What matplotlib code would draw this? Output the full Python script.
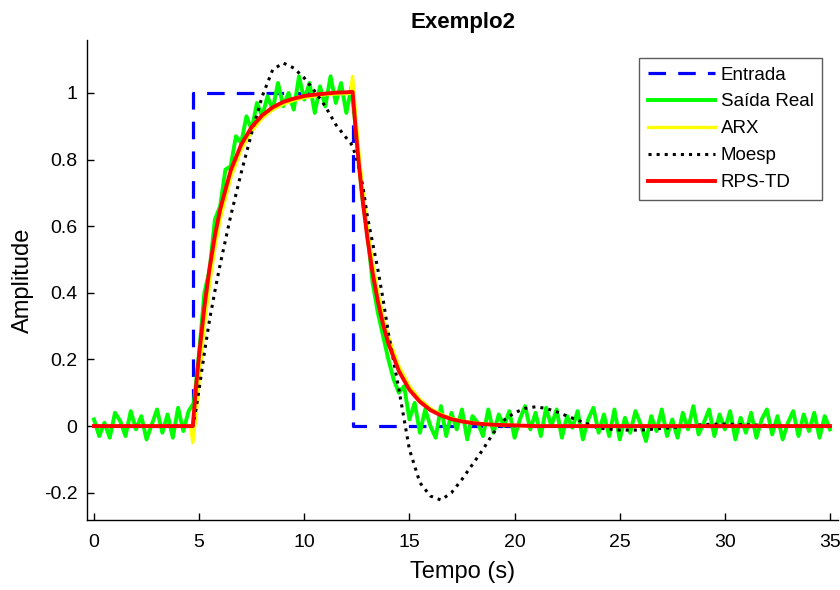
"""
Exemplo2: step response of the real system and of the identified models
"""
import matplotlib
matplotlib.use("Agg")
import matplotlib.pyplot as plt
from matplotlib.ticker import FormatStrFormatter

plt.rcParams["font.family"] = ["Liberation Sans", "DejaVu Sans"]

# Input step (corners only)
t_in = [0.0, 4.7, 4.7, 12.3, 12.3, 35.0]
u_in = [0.0, 0.0, 1.0, 1.0, 0.0, 0.0]

# Measured output, sampled every 0.25 s from 0 to 35 s
t_real = [i * 0.25 for i in range(141)]
y_real = [
    0.02, -0.03, 0.01, -0.035, 0.04, 0.015, -0.03, 0.045, -0.01, 0.03,
    -0.04, 0.005, 0.05, -0.02, 0.035, -0.035, 0.055, -0.015, 0.045, 0.07,
    0.22, 0.40, 0.47, 0.62, 0.66, 0.77, 0.78, 0.87, 0.85, 0.93,
    0.89, 0.97, 0.93, 0.99, 0.95, 1.03, 0.96, 1.00, 0.95, 1.05,
    0.98, 1.03, 0.94, 1.02, 0.96, 1.05, 0.97, 1.03, 0.94, 1.02,
    0.86, 0.69, 0.58, 0.43, 0.34, 0.27, 0.20, 0.14, 0.10, 0.12,
    0.02, 0.07, -0.02, 0.05, 0.0, -0.035, 0.06, -0.03, 0.04, -0.01,
    0.05, -0.04, 0.03, 0.01, -0.03, 0.05, -0.02, 0.035, 0.0, 0.045,
    -0.035, 0.02, 0.06, -0.01, 0.04, -0.03, 0.055, 0.0, 0.05, -0.035,
    0.03, -0.005, 0.045, -0.04, 0.02, 0.055, -0.02, 0.035, -0.03, 0.05,
    -0.04, 0.025, -0.02, 0.045, 0.005, -0.045, 0.03, -0.015, 0.05, -0.03,
    0.02, -0.035, 0.04, -0.01, 0.06, -0.025, 0.01, 0.05, -0.03, 0.035,
    -0.01, 0.045, -0.04, 0.025, -0.02, 0.04, -0.035, 0.02, 0.05, -0.025,
    0.03, -0.04, 0.01, 0.045, -0.03, 0.035, -0.015, 0.04, -0.035, 0.03,
    -0.01,
]

# Model responses (smooth curves)
t_model = [
    0.0, 4.6, 4.7, 4.85, 5.0, 5.25, 5.5, 5.75, 6.0, 6.5, 7.0, 7.5, 8.0, 8.5,
    9.0, 9.5, 10.0, 10.5, 11.0, 11.5, 12.0, 12.2, 12.3, 12.45, 12.6, 12.8,
    13.0, 13.25, 13.5, 13.75, 14.0, 14.5, 15.0, 15.5, 16.0, 16.5, 17.0,
    17.5, 18.0, 18.5, 19.0, 19.5, 20.0, 20.5, 21.0, 21.5, 22.0, 22.5, 23.0,
    24.0, 25.0, 26.0, 27.0, 28.0, 29.0, 30.0, 31.0, 32.0, 33.0, 34.0, 35.0,
]
y_arx = [
    0.0, 0.0, -0.05, 0.03, 0.14, 0.30, 0.43, 0.535, 0.62, 0.745, 0.83, 0.885,
    0.924, 0.950, 0.966, 0.978, 0.986, 0.991, 0.995, 0.997, 0.998, 0.999,
    1.05, 0.93, 0.82, 0.70, 0.595, 0.49, 0.40, 0.328, 0.268, 0.180, 0.120,
    0.080, 0.053, 0.035, 0.023, 0.015, 0.010, 0.007, 0.004, 0.003, 0.002,
    0.001, 0.0, 0.0, 0.0, 0.0, 0.0, 0.0, 0.0, 0.0, 0.0, 0.0, 0.0, 0.0, 0.0,
    0.0, 0.0, 0.0, 0.0,
]
y_moesp = [
    0.0, 0.0, 0.0, 0.05, 0.11, 0.22, 0.32, 0.405, 0.485, 0.63, 0.76, 0.88,
    0.99, 1.07, 1.09, 1.075, 1.045, 1.005, 0.96, 0.905, 0.865, 0.85, 0.84,
    0.81, 0.775, 0.715, 0.63, 0.55, 0.47, 0.38, 0.28, 0.11, -0.07, -0.17,
    -0.21, -0.222, -0.20, -0.16, -0.115, -0.07, -0.02, 0.018, 0.04, 0.053,
    0.058, 0.053, 0.043, 0.03, 0.018, -0.006, -0.012, -0.012, -0.007,
    -0.002, 0.005, 0.006, 0.004, 0.002, 0.0, 0.0, 0.0,
]
y_rps = [
    0.0, 0.0, 0.0, 0.114, 0.214, 0.357, 0.475, 0.571, 0.650, 0.767, 0.845,
    0.898, 0.933, 0.957, 0.973, 0.983, 0.991, 0.995, 0.998, 1.001, 1.002,
    1.003, 1.003, 0.887, 0.784, 0.666, 0.565, 0.460, 0.375, 0.305, 0.248,
    0.165, 0.109, 0.073, 0.048, 0.032, 0.021, 0.014, 0.009, 0.006, 0.004,
    0.003, 0.002, 0.001, 0.0, 0.0, 0.0, 0.0, 0.0, 0.0, 0.0, 0.0, 0.0, 0.0,
    0.0, 0.0, 0.0, 0.0, 0.0, 0.0, 0.0,
]

fig = plt.figure(figsize=(8.4, 5.9), dpi=100)
ax = fig.add_axes([0.1036, 0.1186, 0.894, 0.8136])

ax.plot(t_in, u_in, color="#0000ff", lw=2.3, dashes=(5.5, 3.8), label="Entrada")
ax.plot(t_real, y_real, color="#00ff00", lw=2.8, label="Saída Real")
ax.plot(t_model, y_arx, color="#ffff00", lw=2.4, label="ARX")
ax.plot(t_model, y_moesp, color="black", lw=2.2, linestyle=":", label="Moesp")
ax.plot(t_model, y_rps, color="#ff0000", lw=2.8, label="RPS-TD")

ax.set_xlim(-0.33, 35.38)
ax.set_ylim(-0.282, 1.159)
ax.set_xticks([0, 5, 10, 15, 20, 25, 30, 35])
ax.set_yticks([-0.2, 0, 0.2, 0.4, 0.6, 0.8, 1.0])
ax.yaxis.set_major_formatter(FormatStrFormatter("%g"))
ax.tick_params(direction="in", length=5, width=1, labelsize=14)
ax.tick_params(axis="x", pad=10)
ax.tick_params(axis="y", pad=7)

for side in ("top", "right"):
    ax.spines[side].set_visible(False)
for side in ("left", "bottom"):
    ax.spines[side].set_linewidth(1)

ax.set_xlabel("Tempo (s)", fontsize=17, labelpad=7)
ax.set_ylabel("Amplitude", fontsize=17, labelpad=7)
ax.set_title("Exemplo2", fontsize=16, fontweight="bold", pad=9)

leg = ax.legend(loc="upper right", bbox_to_anchor=(0.979, 0.9625),
                fontsize=13.5, frameon=True, fancybox=False, handlelength=3.6,
                handletextpad=0.3, labelspacing=0.52, borderpad=0.45,
                borderaxespad=0)
leg.get_frame().set_edgecolor("#333333")
leg.get_frame().set_linewidth(1)

fig.savefig("out.png", dpi=100)
